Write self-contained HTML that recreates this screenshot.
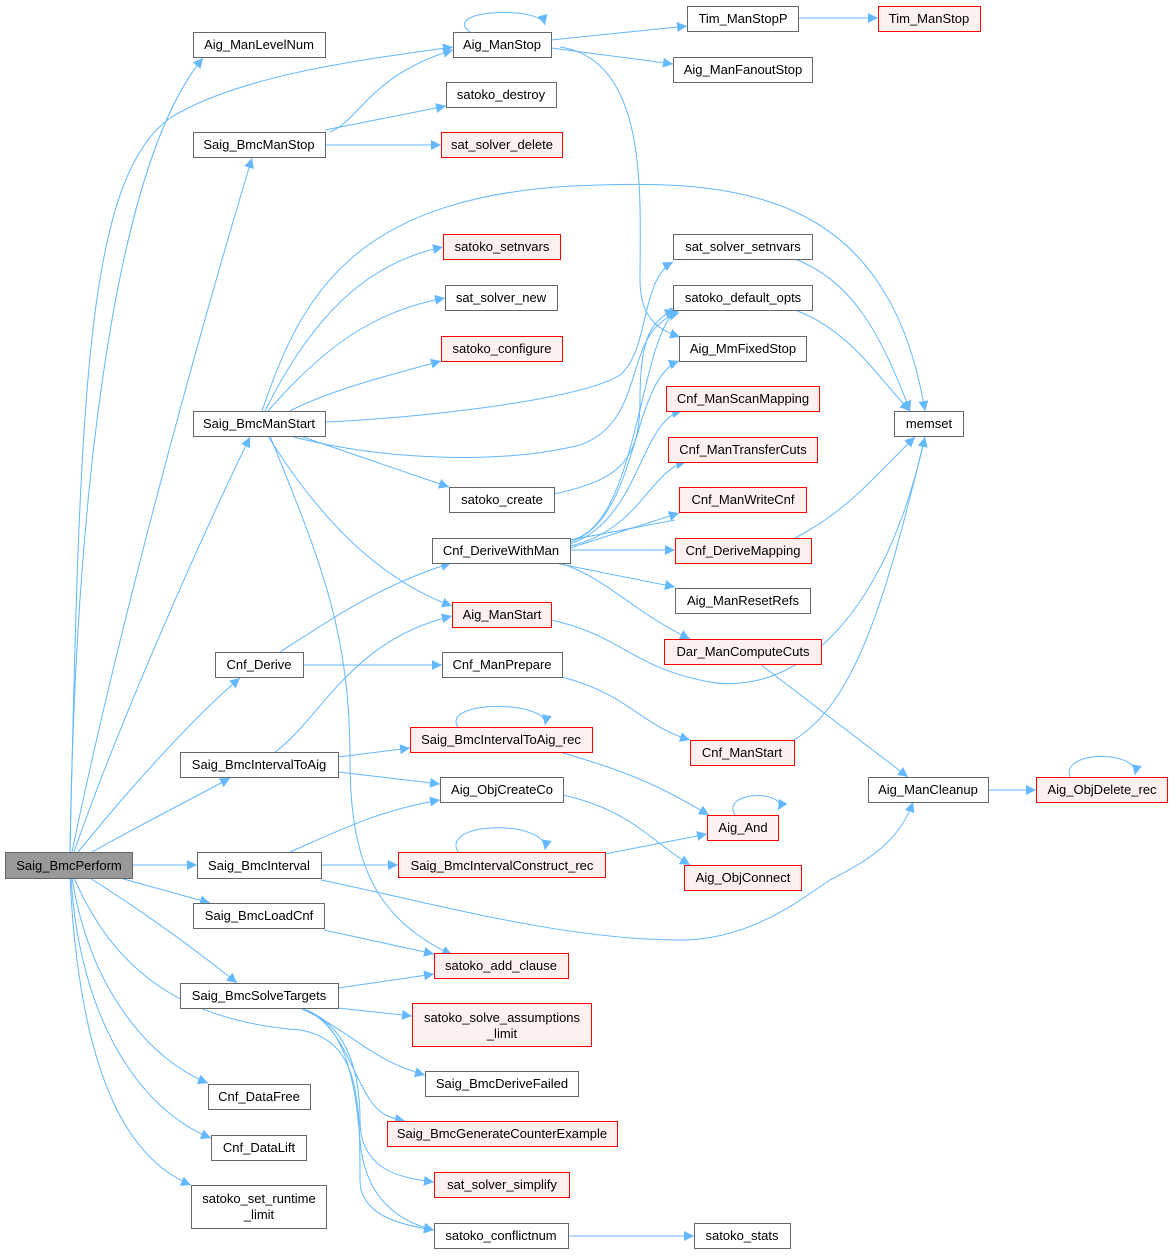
<!DOCTYPE html>
<html><head><meta charset="utf-8"><style>
html,body{margin:0;padding:0;background:#fff}
svg{display:block}
text{font-family:"Liberation Sans",Arial,sans-serif;font-size:13px;fill:#000}
.n{fill:#fff;stroke:#666;stroke-width:1}
.r{fill:#fff0f0;stroke:#f00;stroke-width:1}
.g{fill:#999;stroke:#666;stroke-width:1}
.e{fill:none;stroke:#63b8ff;stroke-width:1}
</style></head><body>
<svg width="1173" height="1255" viewBox="0 0 1173 1255" xmlns="http://www.w3.org/2000/svg">
<defs><marker id="a" viewBox="0 0 10 10" refX="10" refY="5" markerWidth="10" markerHeight="10" markerUnits="userSpaceOnUse" orient="auto"><path d="M0,0 L10,5 L0,10 z" fill="#63b8ff"/></marker></defs>
<g class="e" marker-end="url(#a)">
<!-- from Saig_BmcPerform -->
<path d="M70,852 C75,520 110,170 203,58"/>
<path d="M70,852 C80,400 85,180 170,118 C240,75 360,60 453,47"/>
<path d="M72,852 C120,620 200,330 252,158"/>
<path d="M74,852 C120,720 200,540 250,437"/>
<path d="M78,852 C120,800 190,720 240,678"/>
<path d="M92,852 C140,825 190,800 230,778"/>
<path d="M132,865 L197,865"/>
<path d="M120,878 L210,903"/>
<path d="M90,878 C140,910 190,945 237,983"/>
<path d="M72,878 C90,990 150,1060 208,1083"/>
<path d="M71,878 C80,1020 140,1110 211,1138"/>
<path d="M70,878 C80,1080 130,1160 191,1185"/>
<path d="M74,878 C110,960 170,1020 300,1030 C360,1040 360,1100 360,1180 C360,1215 400,1225 434,1230"/>
<!-- Aig_ManStop -->
<path d="M551,40 L687,26"/>
<path d="M551,48 L673,64"/>
<path d="M470,32 C440,10 540,5 545,25"/>
<path d="M560,47 C650,60 640,200 640,280 C640,320 660,330 680,337"/>
<path d="M798,18 L878,18"/>
<!-- Saig_BmcManStop -->
<path d="M330,132 C360,120 370,75 453,50"/>
<path d="M325,130 L446,106"/>
<path d="M325,145 L441,145"/>
<!-- Saig_BmcManStart -->
<path d="M262,411 C300,300 350,190 600,185 C750,180 890,200 925,411"/>
<path d="M265,411 C320,300 380,260 443,247"/>
<path d="M268,411 C330,340 380,310 445,298"/>
<path d="M290,411 C330,390 390,375 441,361"/>
<path d="M325,422 C420,418 580,400 620,375 C650,350 640,280 673,262"/>
<path d="M290,436 C380,460 500,465 580,445 C650,420 620,330 679,313"/>
<path d="M300,436 L449,487"/>
<path d="M268,436 C320,520 380,580 452,606"/>
<path d="M270,436 C320,560 350,630 350,760 C350,870 380,920 452,955"/>
<!-- satoko_create -->
<path d="M554,494 C620,480 640,460 640,400 C640,340 650,320 675,310"/>
<!-- Cnf_DeriveWithMan -->
<path d="M570,540 L675,520 M570,540 C640,530 640,320 680,310"/>
<path d="M570,542 C640,520 630,380 679,361"/>
<path d="M570,544 C640,520 640,420 682,411"/>
<path d="M570,546 C640,530 650,470 686,462"/>
<path d="M570,548 L679,513"/>
<path d="M570,550 L675,550"/>
<path d="M555,563 L675,587"/>
<path d="M560,563 C610,580 630,610 690,639"/>
<!-- Aig_ManStart to memset -->
<path d="M551,620 C620,635 630,665 700,680 C780,700 880,640 925,437"/>
<!-- Cnf_Derive -->
<path d="M280,652 C330,620 380,585 451,563"/>
<path d="M303,665 L442,665"/>
<!-- Cnf_ManPrepare -->
<path d="M562,677 C630,695 640,725 690,740"/>
<!-- Cnf_ManStart -->
<path d="M794,740 C860,700 890,580 925,437"/>
<!-- others to memset -->
<path d="M795,259 C850,280 880,330 910,411"/>
<path d="M795,310 C850,330 880,380 910,411"/>
<path d="M795,538 C850,510 880,470 915,437"/>
<!-- Dar_ManComputeCuts -->
<path d="M760,664 L908,777"/>
<path d="M988,790 L1036,790"/>
<path d="M1070,777 C1060,750 1140,750 1135,775"/>
<!-- Saig_BmcIntervalToAig -->
<path d="M275,752 C320,720 350,640 452,616"/>
<path d="M338,757 L410,748"/>
<path d="M338,772 L440,784"/>
<path d="M458,727 C440,700 550,700 545,725"/>
<path d="M560,752 C620,770 650,780 709,815"/>
<path d="M563,795 C630,810 650,840 690,865"/>
<path d="M735,815 C720,790 790,790 778,810"/>
<!-- Saig_BmcInterval -->
<path d="M290,852 C340,830 380,810 440,800"/>
<path d="M321,865 L398,865"/>
<path d="M321,880 C420,900 560,940 680,940 C750,940 800,900 830,880 C870,860 900,840 913,802"/>
<path d="M605,854 L707,834"/>
<path d="M458,852 C440,820 550,820 545,850"/>
<!-- Saig_BmcLoadCnf -->
<path d="M324,930 L434,954"/>
<!-- Saig_BmcSolveTargets -->
<path d="M338,988 L434,974"/>
<path d="M338,1008 L412,1016"/>
<path d="M300,1008 C350,1030 370,1060 425,1075"/>
<path d="M300,1008 C340,1020 350,1070 370,1100 C380,1115 390,1118 405,1121"/>
<path d="M300,1008 C340,1020 360,1060 360,1120 C360,1170 400,1178 434,1182"/>
<path d="M300,1008 C345,1020 355,1080 360,1140 C365,1200 400,1222 434,1230"/>
<path d="M568,1236 L694,1236"/>
</g>
<g>
<rect class="g" x="5.5" y="852.5" width="127" height="26"/><text x="69" y="870" text-anchor="middle">Saig_BmcPerform</text>
<rect class="n" x="193.5" y="32.5" width="132" height="25"/><text x="259" y="49" text-anchor="middle">Aig_ManLevelNum</text>
<rect class="n" x="453.5" y="32.5" width="98" height="25"/><text x="502" y="49" text-anchor="middle">Aig_ManStop</text>
<rect class="n" x="687.5" y="6.5" width="111" height="25"/><text x="743" y="23" text-anchor="middle">Tim_ManStopP</text>
<rect class="r" x="878.5" y="6.5" width="102" height="25"/><text x="929" y="23" text-anchor="middle">Tim_ManStop</text>
<rect class="n" x="673.5" y="57.5" width="139" height="25"/><text x="743" y="74" text-anchor="middle">Aig_ManFanoutStop</text>
<rect class="n" x="446.5" y="82.5" width="110" height="25"/><text x="501" y="99" text-anchor="middle">satoko_destroy</text>
<rect class="n" x="193.5" y="132.5" width="132" height="25"/><text x="259" y="149" text-anchor="middle">Saig_BmcManStop</text>
<rect class="r" x="441.5" y="132.5" width="121" height="25"/><text x="502" y="149" text-anchor="middle">sat_solver_delete</text>
<rect class="r" x="443.5" y="234.5" width="117" height="25"/><text x="502" y="251" text-anchor="middle">satoko_setnvars</text>
<rect class="n" x="673.5" y="234.5" width="139" height="25"/><text x="743" y="251" text-anchor="middle">sat_solver_setnvars</text>
<rect class="n" x="445.5" y="285.5" width="112" height="25"/><text x="501" y="302" text-anchor="middle">sat_solver_new</text>
<rect class="n" x="673.5" y="285.5" width="139" height="25"/><text x="743" y="302" text-anchor="middle">satoko_default_opts</text>
<rect class="r" x="441.5" y="336.5" width="121" height="25"/><text x="502" y="353" text-anchor="middle">satoko_configure</text>
<rect class="n" x="679.5" y="336.5" width="127" height="25"/><text x="743" y="353" text-anchor="middle">Aig_MmFixedStop</text>
<rect class="r" x="666.5" y="386.5" width="153" height="25"/><text x="743" y="403" text-anchor="middle">Cnf_ManScanMapping</text>
<rect class="n" x="193.5" y="411.5" width="132" height="25"/><text x="259" y="428" text-anchor="middle">Saig_BmcManStart</text>
<rect class="n" x="894.5" y="411.5" width="69" height="25"/><text x="929" y="428" text-anchor="middle">memset</text>
<rect class="r" x="668.5" y="437.5" width="149" height="25"/><text x="743" y="454" text-anchor="middle">Cnf_ManTransferCuts</text>
<rect class="n" x="449.5" y="487.5" width="105" height="25"/><text x="502" y="504" text-anchor="middle">satoko_create</text>
<rect class="r" x="679.5" y="487.5" width="127" height="25"/><text x="743" y="504" text-anchor="middle">Cnf_ManWriteCnf</text>
<rect class="n" x="432.5" y="538.5" width="138" height="25"/><text x="501" y="555" text-anchor="middle">Cnf_DeriveWithMan</text>
<rect class="r" x="675.5" y="538.5" width="136" height="25"/><text x="743" y="555" text-anchor="middle">Cnf_DeriveMapping</text>
<rect class="n" x="675.5" y="588.5" width="135" height="25"/><text x="743" y="605" text-anchor="middle">Aig_ManResetRefs</text>
<rect class="r" x="452.5" y="602.5" width="99" height="25"/><text x="502" y="619" text-anchor="middle">Aig_ManStart</text>
<rect class="r" x="664.5" y="639.5" width="157" height="25"/><text x="743" y="656" text-anchor="middle">Dar_ManComputeCuts</text>
<rect class="n" x="215.5" y="652.5" width="88" height="25"/><text x="259" y="669" text-anchor="middle">Cnf_Derive</text>
<rect class="n" x="442.5" y="652.5" width="120" height="25"/><text x="502" y="669" text-anchor="middle">Cnf_ManPrepare</text>
<rect class="r" x="410.5" y="727.5" width="182" height="25"/><text x="501" y="744" text-anchor="middle">Saig_BmcIntervalToAig_rec</text>
<rect class="r" x="690.5" y="740.5" width="104" height="25"/><text x="742" y="757" text-anchor="middle">Cnf_ManStart</text>
<rect class="n" x="180.5" y="752.5" width="158" height="25"/><text x="259" y="769" text-anchor="middle">Saig_BmcIntervalToAig</text>
<rect class="n" x="440.5" y="777.5" width="123" height="25"/><text x="502" y="794" text-anchor="middle">Aig_ObjCreateCo</text>
<rect class="n" x="868.5" y="777.5" width="120" height="25"/><text x="928" y="794" text-anchor="middle">Aig_ManCleanup</text>
<rect class="r" x="1036.5" y="777.5" width="131" height="25"/><text x="1102" y="794" text-anchor="middle">Aig_ObjDelete_rec</text>
<rect class="r" x="707.5" y="815.5" width="71" height="25"/><text x="743" y="832" text-anchor="middle">Aig_And</text>
<rect class="n" x="197.5" y="852.5" width="124" height="26"/><text x="259" y="870" text-anchor="middle">Saig_BmcInterval</text>
<rect class="r" x="398.5" y="852.5" width="207" height="25"/><text x="502" y="870" text-anchor="middle">Saig_BmcIntervalConstruct_rec</text>
<rect class="r" x="684.5" y="865.5" width="117" height="25"/><text x="743" y="882" text-anchor="middle">Aig_ObjConnect</text>
<rect class="n" x="193.5" y="903.5" width="131" height="25"/><text x="259" y="920" text-anchor="middle">Saig_BmcLoadCnf</text>
<rect class="r" x="434.5" y="953.5" width="134" height="25"/><text x="501" y="970" text-anchor="middle">satoko_add_clause</text>
<rect class="n" x="180.5" y="983.5" width="158" height="25"/><text x="259" y="1000" text-anchor="middle">Saig_BmcSolveTargets</text>
<rect class="r" x="412.5" y="1003.5" width="179" height="43"/><text x="502" y="1022" text-anchor="middle">satoko_solve_assumptions</text><text x="502" y="1038" text-anchor="middle">_limit</text>
<rect class="n" x="425.5" y="1071.5" width="153" height="25"/><text x="502" y="1088" text-anchor="middle">Saig_BmcDeriveFailed</text>
<rect class="n" x="208.5" y="1084.5" width="102" height="25"/><text x="259" y="1101" text-anchor="middle">Cnf_DataFree</text>
<rect class="r" x="387.5" y="1121.5" width="230" height="25"/><text x="502" y="1138" text-anchor="middle">Saig_BmcGenerateCounterExample</text>
<rect class="n" x="211.5" y="1135.5" width="95" height="25"/><text x="259" y="1152" text-anchor="middle">Cnf_DataLift</text>
<rect class="r" x="434.5" y="1172.5" width="135" height="25"/><text x="502" y="1189" text-anchor="middle">sat_solver_simplify</text>
<rect class="n" x="191.5" y="1185.5" width="135" height="43"/><text x="259" y="1203" text-anchor="middle">satoko_set_runtime</text><text x="259" y="1219" text-anchor="middle">_limit</text>
<rect class="n" x="434.5" y="1223.5" width="134" height="25"/><text x="501" y="1240" text-anchor="middle">satoko_conflictnum</text>
<rect class="n" x="694.5" y="1223.5" width="96" height="25"/><text x="742" y="1240" text-anchor="middle">satoko_stats</text>
</g>
</svg>
</body></html>
